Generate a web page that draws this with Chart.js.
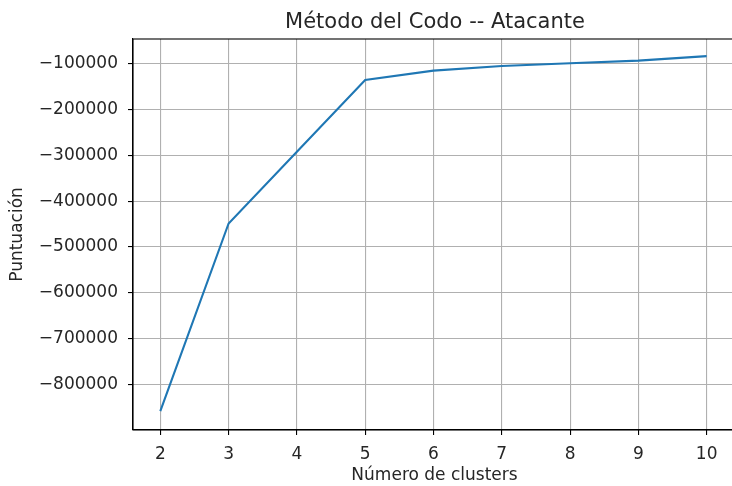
<!DOCTYPE html>
<html>
<head>
<meta charset="utf-8">
<script src="https://cdn.jsdelivr.net/npm/chart.js@4.4.1/dist/chart.umd.min.js"></script>
<style>
  html, body { margin: 0; padding: 0; background: #fff; overflow: hidden; }
  #wrap { width: 770px; height: 486px; }
</style>
</head>
<body>
<div id="wrap"><canvas id="myChart"></canvas></div>
<script>
const clusters = [2, 3, 4, 5, 6, 7, 8, 9, 10]
const scores = [-858700, -448600, -292000, -135000, -114700, -104400, -98500, -92800, -83000]
const xTicks = [2, 3, 4, 5, 6, 7, 8, 9, 10]
const yTicks = [-800000, -700000, -600000, -500000, -400000, -300000, -200000, -100000]

const font = 'DejaVu Sans'
const textColor = '#262626'

let canva = document.querySelector('#myChart')

// matplotlib style box and title
const frame = {
  id: 'frame',
  afterDraw(chart) {
    const { ctx, chartArea: a } = chart
    ctx.save()
    ctx.strokeStyle = '#000'
    ctx.lineWidth = 1.1
    ctx.strokeRect(a.left, a.top, a.right - a.left, a.bottom - a.top)
    ctx.fillStyle = textColor
    ctx.font = '21px "' + font + '"'
    ctx.textAlign = 'center'
    ctx.textBaseline = 'alphabetic'
    ctx.fillText('Método del Codo -- Atacante', 435, 28)
    ctx.restore()
  }
}

const data = {
  datasets: [{
    label: 'Atacante',
    data: clusters.map((c, i) => ({ x: c, y: scores[i] })),
    borderColor: '#1f77b4',
    borderWidth: 2.1,
    pointRadius: 0,
    tension: 0,
    fill: false
  }]
}

const config = {
  type: 'line',
  data: data,
  plugins: [frame],
  options: {
    responsive: true,
    maintainAspectRatio: false,
    animation: false,
    layout: { padding: { top: 39, right: 34, left: 0, bottom: 0 } },
    plugins: {
      legend: { display: false },
      title: { display: false },
      tooltip: { enabled: false }
    },
    scales: {
      x: {
        type: 'linear',
        min: 1.6,
        max: 10.43,
        afterBuildTicks: s => { s.ticks = xTicks.map(v => ({ value: v })) },
        afterFit: s => { s.height = 56 },
        grid: { color: '#b0b0b0', lineWidth: 1.1, tickColor: '#000', tickLength: 5 },
        border: { color: '#000', width: 1.1 },
        ticks: { color: textColor, font: { family: font, size: 17 }, padding: 9, maxRotation: 0 },
        title: { display: true, text: 'Número de clusters', color: textColor, font: { family: font, size: 17 }, padding: { top: 0, bottom: 0 } }
      },
      y: {
        type: 'linear',
        min: -900000,
        max: -45500,
        afterBuildTicks: s => { s.ticks = yTicks.map(v => ({ value: v })) },
        afterFit: s => { s.width = 133 },
        grid: { color: '#b0b0b0', lineWidth: 1.1, tickColor: '#000', tickLength: 5 },
        border: { color: '#000', width: 1.1 },
        ticks: {
          color: textColor,
          font: { family: font, size: 17 },
          padding: 10,
          callback: v => '\u2212' + Math.abs(v)
        },
        title: { display: true, text: 'Puntuación', color: textColor, font: { family: font, size: 17 }, padding: { top: 7, bottom: 7 } }
      }
    }
  }
}

new Chart(canva, config)
</script>
</body>
</html>
